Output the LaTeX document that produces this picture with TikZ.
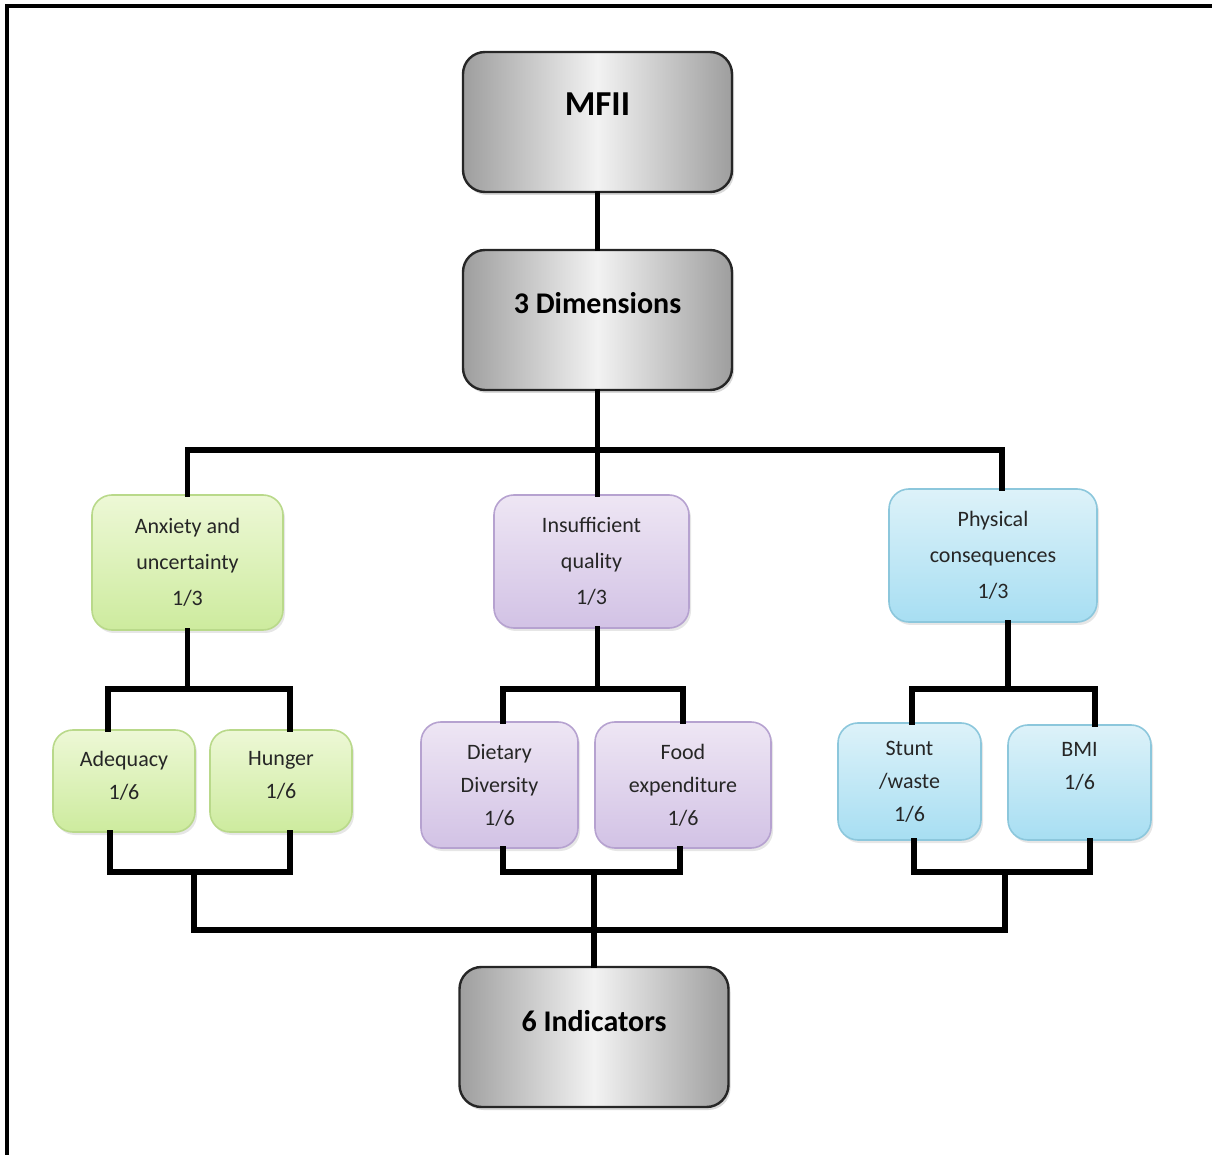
\documentclass[tikz,border=0pt]{standalone}
\usepackage{fontspec}
\setmainfont{Carlito}
\usetikzlibrary{calc,shadows}

\definecolor{anxtop}{HTML}{EDF8D6}
\definecolor{anxbot}{HTML}{CDEB9E}
\definecolor{anxline}{HTML}{B9D98A}
\definecolor{qualtop}{HTML}{EEE6F4}
\definecolor{qualbot}{HTML}{D2C2E5}
\definecolor{qualline}{HTML}{B6A2D0}
\definecolor{phystop}{HTML}{DDF2F9}
\definecolor{physbot}{HTML}{A7DEF2}
\definecolor{physline}{HTML}{8CC7DC}

\tikzset{
  greybox/.style={draw=black!85, line width=1.2pt, rounded corners=11pt,
    left color=black!38, right color=black!38, middle color=black!5,
    drop shadow={opacity=0.3, shadow xshift=1pt, shadow yshift=-1.5pt},
    minimum width=134.5pt, minimum height=70pt,
    font=\fontsize{15}{18}\selectfont\bfseries, text height=10pt, text depth=16pt},
  colbox/.style={rounded corners=10pt, line width=0.8pt, align=center,
    drop shadow={opacity=0.2, shadow xshift=1pt, shadow yshift=-1.5pt},
    font=\fontsize{11}{18}\selectfont, text=black!85},
  subbox/.style={font=\fontsize{11}{16.5}\selectfont},
  anxbox/.style={colbox, draw=anxline, top color=anxtop, bottom color=anxbot},
  qualbox/.style={colbox, draw=qualline, top color=qualtop, bottom color=qualbot},
  physbox/.style={colbox, draw=physline, top color=phystop, bottom color=physbot},
  link/.style={line width=2.6pt, line join=miter, line cap=rect}
}

\begin{document}
\begin{tikzpicture}[x=0.5pt, y=-0.5pt]
\useasboundingbox (0,0) rectangle (1212,1155);
\draw[line width=1.6pt] (1212,6) -- (7,6) -- (7,1155);

% top of the tree
\node[greybox, font=\fontsize{17.5}{20}\selectfont\bfseries, text height=11pt, text depth=17pt]
  (mfii) at (597.5,122) {MFII};
\node[greybox] (dims) at (597.5,320) {3 Dimensions};

% dimensions
\node[anxbox, minimum width=95.5pt, minimum height=67.5pt] (anx) at (187.5,562.5)
  {Anxiety and\\uncertainty\\1/3};
\node[qualbox, minimum width=97.5pt, minimum height=66.5pt] (qual) at (591.5,561.5)
  {Insufficient\\quality\\1/3};
\node[physbox, minimum width=104pt, minimum height=66.5pt] (phys) at (993,555.5)
  {Physical\\consequences\\1/3};

% indicators
\node[anxbox, subbox, minimum width=71pt, minimum height=51pt, text depth=6pt] (adeq) at (124,781) {Adequacy\\1/6};
\node[anxbox, subbox, minimum width=71pt, minimum height=51pt, text depth=6pt] (hung) at (281,781) {Hunger\\1/6};
\node[qualbox, subbox, minimum width=78.5pt, minimum height=63pt] (diet) at (499.5,785) {Dietary\\Diversity\\1/6};
\node[qualbox, subbox, minimum width=88pt, minimum height=63pt] (food) at (683,785) {Food\\expenditure\\1/6};
\node[physbox, subbox, minimum width=71.5pt, minimum height=58.5pt] (stunt) at (909.5,781.5) {Stunt\\/waste\\1/6};
\node[physbox, subbox, minimum width=71.5pt, minimum height=57.5pt] (bmi) at (1079.5,782.5) {BMI\\1/6\\\mbox{}};

\node[greybox] (ind) at (594,1037) {6 Indicators};

% buses
\coordinate (topbus) at (0,450);
\coordinate (midbus) at (0,689);
\coordinate (lowfork) at (0,872);
\coordinate (lowbus) at (0,930);
\coordinate (anxout) at (194,872);
\coordinate (physout) at (1005,872);

\draw[link] (mfii) -- (dims);
\draw[link] (dims.south) -- ([xshift=3pt]qual.north);
\draw[link] (anx.north) |- ([xshift=4.5pt]phys.north |- topbus) -- ([xshift=4.5pt]phys.north);

\draw[link] (anx.south) -- (anx.south |- midbus);
\draw[link] ([xshift=-8pt]adeq.north) |- ([xshift=4.5pt]hung.north |- midbus) -- ([xshift=4.5pt]hung.north);
\draw[link] ([xshift=3pt]qual.south) -- ([xshift=3pt]qual.south |- midbus);
\draw[link] ([xshift=1.75pt]diet.north) |- (food.north |- midbus) -- (food.north);
\draw[link] ([xshift=7.5pt]phys.south) -- ([xshift=7.5pt]phys.south |- midbus);
\draw[link] ([xshift=1.25pt]stunt.north) |- ([xshift=7.75pt]bmi.north |- midbus) -- ([xshift=7.75pt]bmi.north);

\draw[link] ([xshift=-7pt]adeq.south) |- ([xshift=4.5pt]hung.south |- lowfork) -- ([xshift=4.5pt]hung.south);
\draw[link] ([xshift=1.75pt]diet.south) |- ([xshift=-1.5pt]food.south |- lowfork) -- ([xshift=-1.5pt]food.south);
\draw[link] ([xshift=2.25pt]stunt.south) |- ([xshift=5.25pt]bmi.south |- lowfork) -- ([xshift=5.25pt]bmi.south);

\draw[link] (anxout) |- (physout |- lowbus) -- (physout);
\draw[link] (ind.north |- lowfork) -- (ind.north);
\end{tikzpicture}
\end{document}
